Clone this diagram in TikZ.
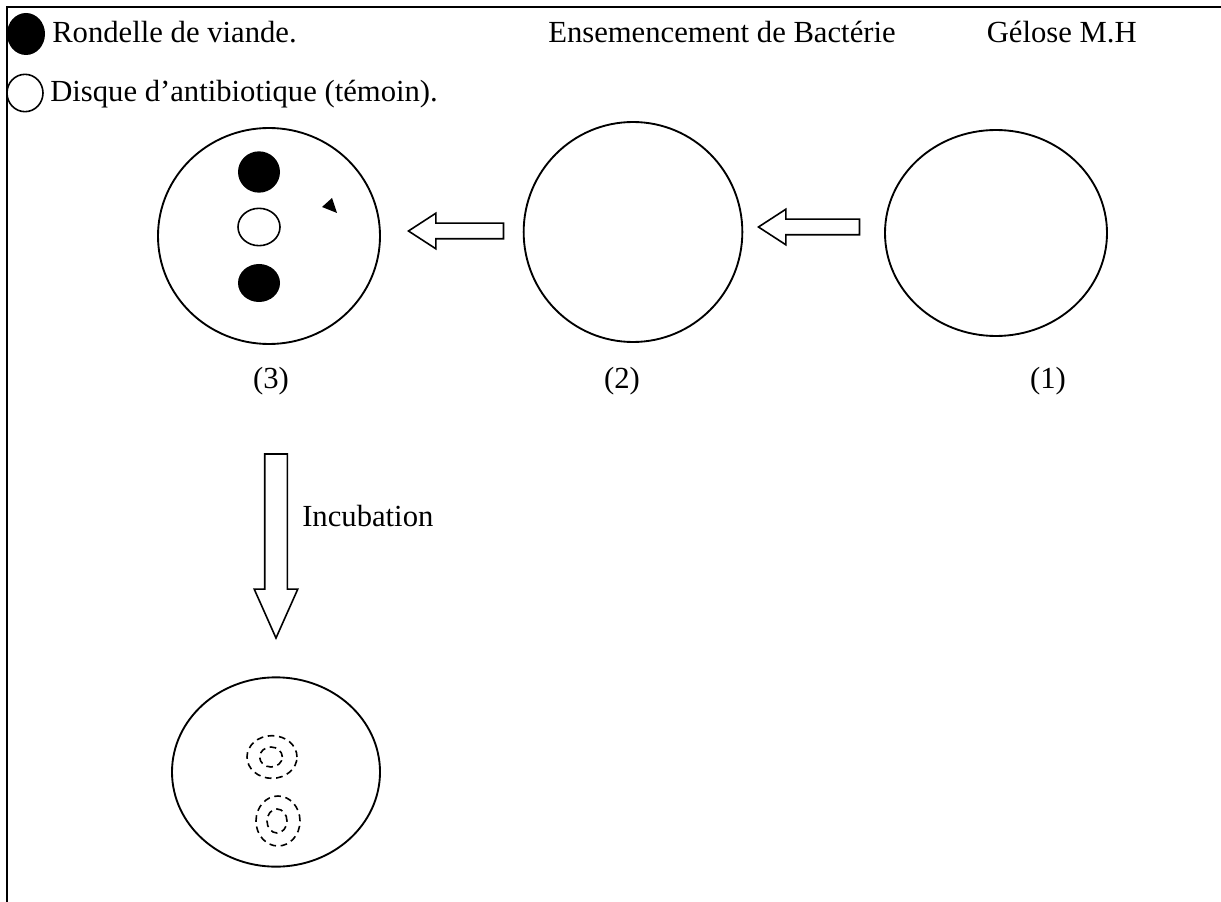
\documentclass[tikz,border=0pt]{standalone}
\usepackage{fontspec}
\setmainfont{Liberation Serif}
\usetikzlibrary{arrows.meta,positioning,calc,shapes.geometric,shapes.arrows}
\tikzset{
  dish/.style={draw,ellipse,inner sep=0pt,line width=1.4pt},
  spot/.style={ellipse,inner sep=0pt,line width=1.2pt},
  zone/.style={draw,ellipse,inner sep=0pt,line width=1.2pt,dash pattern=on 5pt off 3.5pt},
  blockarrow/.style={draw,single arrow,line width=1.2pt,single arrow head indent=0pt},
  lbl/.style={inner sep=0pt,font=\fontsize{23}{27}\selectfont}
}
\begin{document}
\begin{tikzpicture}[x=0.75pt,y=-0.75pt]
\useasboundingbox (0,0) rectangle (1221,902);
\draw[line width=1.8pt] (1221,7)--(7,7)--(7,902);
\node[spot,fill=black,minimum width=28.5pt,minimum height=31.5pt] (keymeat) at (26,34) {};
\node[spot,draw,minimum width=27pt,minimum height=28pt] (keydisc) at (25,93) {};
\node[lbl,anchor=base west] (tmeat) at (52,43) {Rondelle de viande.};
\node[lbl,anchor=base west] (tdisc) at (50,102) {Disque d’antibiotique (témoin).};
\node[lbl,anchor=base west] (tens) at (548,43) {Ensemencement de Bactérie};
\node[lbl,anchor=base east] (tgel) at (1137,43) {Gélose M.H};
\node[dish,minimum width=166.5pt,minimum height=162pt] (d3) at (269,236) {};
\node[dish,minimum width=164pt,minimum height=165pt] (d2) at (633,232) {};
\node[dish,minimum width=166.5pt,minimum height=154.5pt] (d1) at (996,233) {};
\node[dish,minimum width=156pt,minimum height=142pt] (d4) at (276,772) {};
\node[spot,fill=black,minimum width=31.5pt,minimum height=31pt] (meat1) at (259,172) {};
\node[spot,draw,minimum width=31.5pt,minimum height=28pt] (disc) at (259,227) {};
\node[spot,fill=black,minimum width=31.5pt,minimum height=28.5pt] (meat2) at (259,283) {};
\fill (322,207)--(332,198)--(337,213)--cycle;
\node[blockarrow,shape border rotate=180,anchor=tip,inner xsep=0pt,minimum height=71.25pt,inner ysep=5.25pt,single arrow head extend=7.5pt,single arrow tip angle=66] (ar32) at (407,231) {};
\node[blockarrow,shape border rotate=180,anchor=tip,inner xsep=0pt,minimum height=75.75pt,inner ysep=5.25pt,single arrow head extend=7.5pt,single arrow tip angle=66] (ar21) at (757,227) {};
\node[lbl,anchor=base] (n3) at (271,388) {(3)};
\node[lbl,anchor=base] (n2) at (622,388) {(2)};
\node[lbl,anchor=base] (n1) at (1048,388) {(1)};
\node[blockarrow,shape border rotate=270,anchor=tip,inner ysep=0pt,minimum height=138pt,inner xsep=7.875pt,single arrow head extend=7.875pt,single arrow tip angle=48] (arinc) at (276,640) {};
\node[lbl,anchor=base west] (tinc) at (302,526) {Incubation};
\node[zone,minimum width=37.5pt,minimum height=32pt] (z1) at (272,757) {};
\node[zone,minimum width=17pt,minimum height=15pt] (z1c) at (271,757) {};
\node[zone,minimum width=33pt,minimum height=37.5pt] (z2) at (278,821) {};
\node[zone,minimum width=15pt,minimum height=18pt] (z2c) at (277,821) {};
\end{tikzpicture}
\end{document}
